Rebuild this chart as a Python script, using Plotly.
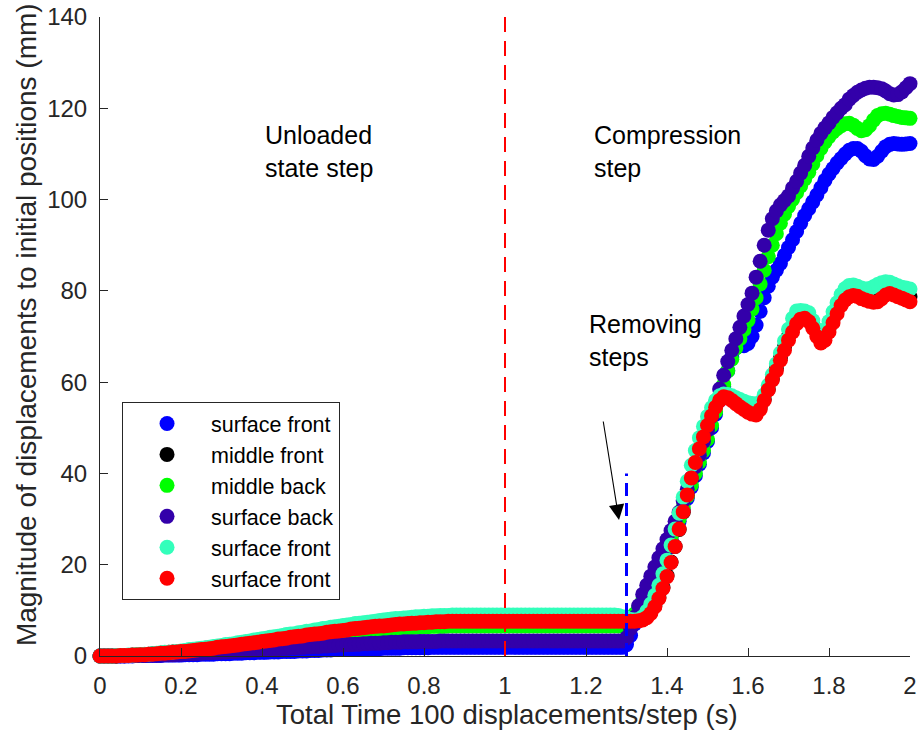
import numpy as np
import plotly.graph_objects as go

# Sample times: 100 displacements per step, 0.01 s apart, 0 s to 2 s
time = np.round(np.linspace(0.0, 2.0, 201), 2)

# ---- displacement magnitudes (mm), split into three phases ----
# phase A: unloaded state step, t = 0.00 ... 0.89 s (90 samples)
# phase B: hold / removing steps, t = 0.90 ... 1.29 s (40 samples)
# phase C: compression step, t = 1.30 ... 2.00 s (71 samples)

surf_front_a = [
    0.0, 0.0, 0.0, 0.0, 0.0, 0.0, 0.0, 0.0, 0.0, 0.1,
    0.1, 0.1, 0.1, 0.1, 0.1, 0.1, 0.2, 0.2, 0.2, 0.2,
    0.2, 0.3, 0.3, 0.3, 0.3, 0.4, 0.4, 0.4, 0.4, 0.5,
    0.5, 0.5, 0.5, 0.6, 0.6, 0.6, 0.7, 0.7, 0.7, 0.8,
    0.8, 0.8, 0.9, 0.9, 0.9, 1.0, 1.0, 1.0, 1.0, 1.1,
    1.1, 1.1, 1.2, 1.2, 1.2, 1.3, 1.3, 1.3, 1.4, 1.4,
    1.4, 1.4, 1.5, 1.5, 1.5, 1.5, 1.6, 1.6, 1.6, 1.6,
    1.7, 1.7, 1.7, 1.7, 1.7, 1.8, 1.8, 1.8, 1.8, 1.8,
    1.8, 1.8, 1.9, 1.9, 1.9, 1.9, 1.9, 1.9, 1.9, 1.9]
surf_front_b = [
    1.9, 1.9, 1.9, 1.9, 1.9, 1.9, 1.9, 1.9, 1.9, 1.9,
    1.9, 1.9, 1.9, 1.9, 1.9, 1.9, 1.9, 1.9, 1.9, 1.9,
    1.9, 1.9, 1.9, 1.9, 1.9, 1.9, 1.9, 1.9, 1.9, 1.9,
    1.9, 1.9, 1.9, 1.9, 1.9, 1.9, 1.9, 1.9, 1.9, 1.9]
surf_front_c = [
    2.5, 4.5, 7.0, 9.5, 11.5, 13.5, 15.5, 17.5, 19.5, 21.5,
    23.5, 25.5, 27.5, 29.5, 32.0, 34.5, 37.0, 39.5, 42.0, 44.5,
    47.0, 50.0, 53.0, 56.0, 59.0, 62.5, 65.5, 67.5, 68.0, 68.0,
    68.5, 70.0, 72.5, 75.5, 78.5, 81.0, 83.0, 84.5, 86.0, 87.8,
    89.5, 91.2, 93.0, 94.8, 96.5, 98.0, 99.5, 101.0, 102.6, 104.2,
    105.6, 106.8, 108.0, 109.0, 110.0, 110.8, 111.2, 111.2, 110.6, 109.6,
    108.9, 108.8, 109.5, 110.6, 111.6, 112.1, 112.3, 112.2, 112.1, 112.2, 112.3]

mid_front_a = [
    0.0, 0.0, 0.0, 0.0, 0.0, 0.1, 0.1, 0.1, 0.2, 0.2,
    0.3, 0.3, 0.4, 0.5, 0.5, 0.6, 0.7, 0.8, 0.9, 0.9,
    1.0, 1.1, 1.2, 1.3, 1.4, 1.5, 1.7, 1.8, 1.9, 2.0,
    2.1, 2.2, 2.4, 2.5, 2.6, 2.8, 2.9, 3.0, 3.2, 3.3,
    3.4, 3.6, 3.7, 3.8, 4.0, 4.1, 4.2, 4.4, 4.5, 4.6,
    4.8, 4.9, 5.0, 5.2, 5.3, 5.4, 5.6, 5.7, 5.8, 6.0,
    6.1, 6.2, 6.3, 6.4, 6.5, 6.7, 6.8, 6.9, 7.0, 7.1,
    7.2, 7.3, 7.3, 7.4, 7.5, 7.6, 7.7, 7.7, 7.8, 7.9,
    7.9, 8.0, 8.0, 8.1, 8.1, 8.1, 8.2, 8.2, 8.2, 8.2]
mid_front_b = [
    8.2, 8.2, 8.2, 8.2, 8.2, 8.2, 8.2, 8.2, 8.2, 8.2,
    8.2, 8.2, 8.2, 8.2, 8.2, 8.2, 8.2, 8.2, 8.2, 8.2,
    8.2, 8.2, 8.2, 8.2, 8.2, 8.2, 8.2, 8.2, 8.2, 8.2,
    8.2, 8.2, 8.2, 8.2, 8.2, 8.2, 8.2, 8.2, 8.2, 8.2]
mid_front_c = [
    8.1, 8.0, 8.0, 8.1, 8.3, 8.7, 9.6, 11.0, 12.8, 15.0,
    17.6, 20.6, 24.0, 27.7, 31.5, 35.2, 38.8, 42.2, 45.3, 48.0,
    50.6, 52.8, 54.8, 56.3, 57.0, 56.9, 56.5, 55.9, 55.3, 54.7,
    54.2, 53.8, 53.6, 54.4, 56.2, 58.4, 60.7, 63.0, 65.3, 67.7,
    70.0, 72.0, 73.6, 74.6, 74.8, 74.3, 72.8, 71.0, 69.6, 70.0,
    71.8, 73.8, 75.8, 77.5, 78.8, 79.5, 79.7, 79.5, 79.0, 78.7,
    78.5, 78.4, 78.6, 79.3, 80.0, 80.2, 79.9, 79.5, 79.2, 79.0, 78.7]

mid_back_a = [
    0.0, 0.0, 0.0, 0.0, 0.0, 0.1, 0.1, 0.1, 0.1, 0.2,
    0.2, 0.3, 0.3, 0.4, 0.4, 0.5, 0.6, 0.6, 0.7, 0.8,
    0.8, 0.9, 1.0, 1.1, 1.2, 1.2, 1.3, 1.4, 1.5, 1.6,
    1.7, 1.8, 1.9, 2.0, 2.1, 2.2, 2.3, 2.4, 2.5, 2.6,
    2.8, 2.9, 3.0, 3.1, 3.2, 3.3, 3.4, 3.5, 3.6, 3.7,
    3.8, 4.0, 4.1, 4.2, 4.3, 4.4, 4.5, 4.6, 4.7, 4.8,
    4.9, 5.0, 5.1, 5.2, 5.3, 5.4, 5.4, 5.5, 5.6, 5.7,
    5.8, 5.8, 5.9, 6.0, 6.0, 6.1, 6.2, 6.2, 6.3, 6.3,
    6.4, 6.4, 6.5, 6.5, 6.5, 6.5, 6.6, 6.6, 6.6, 6.6]
mid_back_b = [
    6.6, 6.6, 6.6, 6.6, 6.6, 6.6, 6.6, 6.6, 6.6, 6.6,
    6.6, 6.6, 6.6, 6.6, 6.6, 6.6, 6.6, 6.6, 6.6, 6.6,
    6.6, 6.6, 6.6, 6.6, 6.6, 6.6, 6.6, 6.6, 6.6, 6.6,
    6.6, 6.6, 6.6, 6.6, 6.6, 6.6, 6.6, 6.6, 6.6, 6.6]
mid_back_c = [
    7.0, 8.0, 9.2, 10.6, 12.2, 14.0, 16.0, 18.0, 20.0, 22.0,
    24.0, 26.0, 28.0, 30.0, 32.5, 35.0, 37.5, 40.0, 42.5, 45.0,
    47.5, 50.5, 53.5, 56.5, 59.5, 62.5, 65.0, 67.5, 69.5, 71.5,
    73.5, 76.0, 78.5, 81.5, 84.5, 87.5, 90.0, 92.5, 94.8, 96.8,
    98.5, 100.0, 101.5, 103.0, 104.5, 106.0, 107.8, 109.6, 111.2, 112.6,
    113.8, 114.8, 115.6, 116.2, 116.6, 116.7, 116.3, 115.6, 115.1, 115.3,
    116.2, 117.4, 118.4, 118.8, 118.9, 118.7, 118.4, 118.2, 118.0, 117.9, 117.8]

surf_back_a = [
    0.0, 0.0, 0.0, 0.0, 0.0, 0.0, 0.0, 0.1, 0.1, 0.1,
    0.1, 0.1, 0.2, 0.2, 0.2, 0.2, 0.3, 0.3, 0.3, 0.4,
    0.4, 0.5, 0.5, 0.5, 0.6, 0.6, 0.7, 0.7, 0.8, 0.8,
    0.9, 0.9, 1.0, 1.0, 1.1, 1.1, 1.2, 1.2, 1.3, 1.3,
    1.4, 1.4, 1.5, 1.5, 1.6, 1.7, 1.7, 1.8, 1.8, 1.9,
    1.9, 2.0, 2.0, 2.1, 2.1, 2.2, 2.2, 2.3, 2.3, 2.4,
    2.4, 2.5, 2.5, 2.6, 2.6, 2.7, 2.7, 2.8, 2.8, 2.8,
    2.9, 2.9, 3.0, 3.0, 3.0, 3.1, 3.1, 3.1, 3.1, 3.2,
    3.2, 3.2, 3.2, 3.2, 3.3, 3.3, 3.3, 3.3, 3.3, 3.3]
surf_back_b = [
    3.3, 3.3, 3.3, 3.3, 3.3, 3.3, 3.3, 3.3, 3.3, 3.3,
    3.3, 3.3, 3.3, 3.3, 3.3, 3.3, 3.3, 3.3, 3.3, 3.3,
    3.3, 3.3, 3.3, 3.3, 3.3, 3.3, 3.3, 3.3, 3.3, 3.3,
    3.3, 3.3, 3.3, 3.3, 3.3, 3.3, 3.3, 3.3, 3.3, 3.3]
surf_back_c = [
    4.0, 6.0, 8.5, 11.0, 13.5, 15.5, 17.5, 19.5, 21.5, 23.5,
    25.5, 27.5, 29.5, 31.5, 34.0, 36.5, 39.0, 41.5, 44.0, 47.0,
    49.5, 52.5, 55.5, 58.5, 61.5, 64.5, 67.0, 69.5, 72.0, 74.5,
    77.0, 79.5, 83.0, 86.5, 90.0, 93.3, 95.8, 97.5, 98.8, 99.8,
    100.8, 102.5, 104.0, 105.8, 107.5, 109.5, 111.3, 113.0, 114.5, 115.7,
    116.8, 118.0, 119.0, 120.0, 120.8, 122.0, 122.8, 123.5, 124.0, 124.4,
    124.6, 124.6, 124.5, 124.3, 123.8, 123.2, 122.9, 123.0, 123.6, 124.5, 125.4]

surf_front2_a = [
    0.0, 0.0, 0.0, 0.0, 0.1, 0.1, 0.1, 0.2, 0.2, 0.3,
    0.3, 0.4, 0.4, 0.5, 0.6, 0.7, 0.8, 0.8, 0.9, 1.0,
    1.1, 1.2, 1.4, 1.5, 1.6, 1.7, 1.8, 1.9, 2.1, 2.2,
    2.3, 2.5, 2.6, 2.7, 2.9, 3.0, 3.2, 3.3, 3.5, 3.6,
    3.8, 3.9, 4.1, 4.2, 4.3, 4.5, 4.7, 4.8, 4.9, 5.1,
    5.2, 5.4, 5.5, 5.7, 5.8, 6.0, 6.1, 6.3, 6.4, 6.5,
    6.7, 6.8, 6.9, 7.1, 7.2, 7.3, 7.4, 7.5, 7.6, 7.8,
    7.9, 8.0, 8.1, 8.2, 8.2, 8.3, 8.4, 8.5, 8.6, 8.6,
    8.7, 8.7, 8.8, 8.8, 8.9, 8.9, 8.9, 9.0, 9.0, 9.0]
surf_front2_b = [
    9.0, 9.0, 9.0, 9.0, 9.0, 9.0, 9.0, 9.0, 9.0, 9.0,
    9.0, 9.0, 9.0, 9.0, 9.0, 9.0, 9.0, 9.0, 9.0, 9.0,
    9.0, 9.0, 9.0, 9.0, 9.0, 9.0, 9.0, 9.0, 9.0, 9.0,
    9.0, 9.0, 9.0, 9.0, 9.0, 9.0, 9.0, 9.0, 8.9, 8.6]
surf_front2_c = [
    8.3, 8.0, 7.9, 8.0, 8.6, 9.8, 11.4, 13.3, 15.5, 18.0,
    21.0, 24.3, 27.8, 31.3, 34.8, 38.3, 41.8, 45.0, 47.8, 50.3,
    52.5, 54.4, 56.0, 57.0, 57.4, 57.3, 57.0, 56.6, 56.2, 55.8,
    55.5, 55.3, 55.2, 55.6, 57.2, 59.3, 61.6, 64.0, 66.4, 69.0,
    71.6, 74.0, 75.6, 75.7, 75.6, 75.2, 73.5, 71.5, 70.6, 71.5,
    73.3, 75.4, 77.4, 79.2, 80.5, 81.2, 81.3, 81.0, 80.6, 80.4,
    80.5, 80.9, 81.4, 81.8, 82.0, 81.9, 81.5, 81.1, 80.8, 80.6, 80.4]

surf_front3_a = [
    0.0, 0.0, 0.0, 0.0, 0.0, 0.1, 0.1, 0.1, 0.2, 0.2,
    0.3, 0.3, 0.4, 0.4, 0.5, 0.6, 0.6, 0.7, 0.8, 0.9,
    1.0, 1.0, 1.1, 1.2, 1.3, 1.4, 1.5, 1.6, 1.7, 1.9,
    2.0, 2.1, 2.2, 2.3, 2.4, 2.6, 2.7, 2.8, 2.9, 3.0,
    3.2, 3.3, 3.4, 3.5, 3.7, 3.8, 3.9, 4.1, 4.2, 4.3,
    4.4, 4.6, 4.7, 4.8, 4.9, 5.0, 5.2, 5.3, 5.4, 5.5,
    5.6, 5.7, 5.9, 6.0, 6.1, 6.2, 6.3, 6.4, 6.5, 6.6,
    6.6, 6.7, 6.8, 6.9, 7.0, 7.0, 7.1, 7.2, 7.2, 7.3,
    7.3, 7.4, 7.4, 7.5, 7.5, 7.5, 7.6, 7.6, 7.6, 7.6]
surf_front3_b = [
    7.6, 7.6, 7.6, 7.6, 7.6, 7.6, 7.6, 7.6, 7.6, 7.6,
    7.6, 7.6, 7.6, 7.6, 7.6, 7.6, 7.6, 7.6, 7.6, 7.6,
    7.6, 7.6, 7.6, 7.6, 7.6, 7.6, 7.6, 7.6, 7.6, 7.6,
    7.6, 7.6, 7.6, 7.6, 7.6, 7.6, 7.6, 7.6, 7.6, 7.6]
surf_front3_c = [
    7.6, 7.6, 7.6, 7.7, 7.9, 8.4, 9.3, 10.8, 12.6, 14.8,
    17.4, 20.5, 24.0, 27.8, 31.6, 35.3, 39.0, 42.4, 45.4, 48.0,
    50.5, 52.6, 54.5, 56.0, 56.8, 56.6, 56.0, 55.3, 54.6, 54.0,
    53.4, 53.0, 52.8, 54.0, 56.0, 58.3, 60.5, 62.5, 64.8, 67.0,
    69.2, 71.0, 72.8, 73.8, 74.0, 73.3, 71.8, 70.0, 68.6, 69.2,
    71.0, 73.0, 75.0, 76.8, 78.0, 78.7, 79.0, 78.8, 78.3, 78.0,
    77.7, 77.5, 77.6, 78.3, 79.1, 79.4, 79.1, 78.7, 78.4, 78.0, 77.6]

series_names = ["surface front", "middle front", "middle back",
                "surface back", "surface front", "surface front"]
series_colors = ["#0000FF", "#000000", "#00FF00", "#3300AA", "#33FFBB", "#FF0000"]
series_values = [
    surf_front_a + surf_front_b + surf_front_c,
    mid_front_a + mid_front_b + mid_front_c,
    mid_back_a + mid_back_b + mid_back_c,
    surf_back_a + surf_back_b + surf_back_c,
    surf_front2_a + surf_front2_b + surf_front2_c,
    surf_front3_a + surf_front3_b + surf_front3_c,
]

# step boundaries drawn as dashed guides: (time, top of guide)
unload_end = [1.0, 140]
removal_mark = [1.3, 40]

x_ticks = [0, 0.2, 0.4, 0.6, 0.8, 1.0, 1.2, 1.4, 1.6, 1.8, 2.0]
y_ticks = [0, 20, 40, 60, 80, 100, 120, 140]

FONT = "Liberation Sans, Arial, Helvetica, sans-serif"
INK = "#262626"

fig = go.Figure()
for i, (name, color, vals) in enumerate(zip(series_names, series_colors, series_values)):
    fig.add_trace(go.Scatter(
        x=time, y=vals, mode="markers", name=name,
        legendgroup=f"g{i}",
        marker=dict(color=color, size=15, line=dict(width=0)),
        cliponaxis=False,
    ))

# dashed step guides
fig.add_shape(type="line", x0=unload_end[0], x1=unload_end[0], y0=0, y1=unload_end[1],
              xref="x", yref="y", layer="above",
              line=dict(color="#FF0000", width=2, dash="15px,9px"))
fig.add_shape(type="line", x0=removal_mark[0], x1=removal_mark[0], y0=0, y1=removal_mark[1],
              xref="x", yref="y", layer="above",
              line=dict(color="#0000FF", width=3, dash="13px,7px"))

label_font = dict(family=FONT, size=25, color="#000000")
fig.add_annotation(x=0.4025, y=110.6, xref="x", yref="y", text="Unloaded<br>state step",
                   showarrow=False, xanchor="left", yanchor="middle", align="left", font=label_font)
fig.add_annotation(x=1.215, y=110.6, xref="x", yref="y", text="Compression<br>step",
                   showarrow=False, xanchor="left", yanchor="middle", align="left", font=label_font)
fig.add_annotation(x=1.2025, y=69.2, xref="x", yref="y", text="Removing<br>steps",
                   showarrow=False, xanchor="left", yanchor="middle", align="left", font=label_font)
# arrow pointing at the removal mark
fig.add_annotation(x=1.2815, y=29.8, ax=1.242, ay=51.7, xref="x", yref="y",
                   axref="x", ayref="y", text="", showarrow=True,
                   arrowhead=2, arrowsize=2.8, arrowwidth=1.1, arrowcolor="#000000")

# axis titles
fig.add_annotation(x=0.5025, y=-0.092, xref="paper", yref="paper",
                   text="Total Time 100 displacements/step (s)", showarrow=False,
                   xanchor="center", yanchor="middle",
                   font=dict(family=FONT, size=27.5, color=INK))
fig.add_annotation(x=-0.090, y=0.518, xref="paper", yref="paper",
                   text="Magnitude of displacements to initial positions (mm)", showarrow=False,
                   textangle=-90, xanchor="center", yanchor="middle",
                   font=dict(family=FONT, size=28, color=INK))

axis_common = dict(showgrid=False, zeroline=False, showline=True, linecolor=INK, linewidth=1,
                   ticks="inside", ticklen=8, tickwidth=1, tickcolor=INK, automargin=False,
                   tickfont=dict(family=FONT, size=24, color=INK))
fig.update_xaxes(range=[0, 2], tickvals=x_ticks, ticklabelstandoff=8, **axis_common)
fig.update_yaxes(range=[0, 140], tickvals=y_ticks, ticklabelstandoff=7, **axis_common)

fig.update_layout(
    width=922, height=734,
    margin=dict(l=100, r=12, t=17, b=78),
    paper_bgcolor="white", plot_bgcolor="white",
    font=dict(family=FONT, color=INK),
    showlegend=True,
    legend=dict(x=0.0272, y=0.3975, xanchor="left", yanchor="top",
                bgcolor="white", bordercolor=INK, borderwidth=1,
                font=dict(family=FONT, size=21.5, color="#000000"),
                itemwidth=78, tracegroupgap=0, traceorder="normal"),
)

fig.write_html("out.html")
